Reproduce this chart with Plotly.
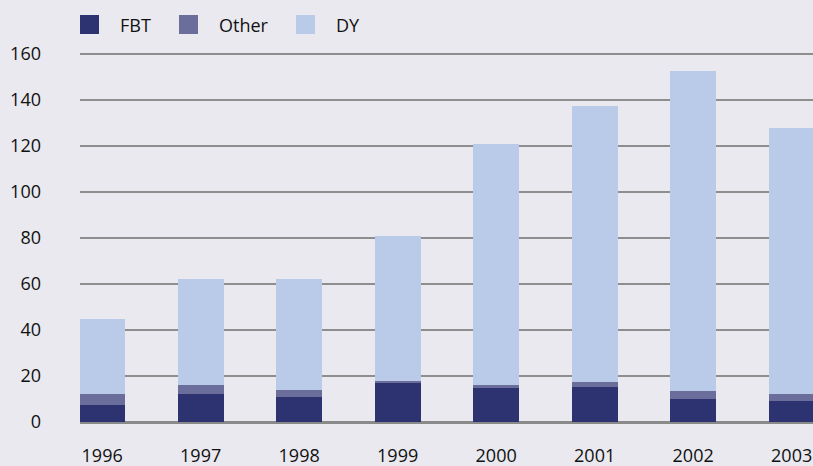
import plotly.graph_objects as go

years = ["1996", "1997", "1998", "1999", "2000", "2001", "2002", "2003"]
fbt = [7.5, 12, 11, 17, 15, 15.4, 10.2, 9.3]
other = [4.5, 4, 2.7, 1, 1.3, 2.2, 3.1, 2.7]
dy = [33, 46, 48.3, 63, 104.7, 120, 139.5, 116]

series_names = ["FBT", "Other", "DY"]
series_values = [fbt, other, dy]
series_colors = ["#2d3270", "#6b6d9b", "#b9cbe9"]

y_ticks = [0, 20, 40, 60, 80, 100, 120, 140, 160]

FONT = "Open Sans, Noto Sans, sans-serif"
BG = "#e9e9ef"

fig = go.Figure()
for name, vals, col in zip(series_names, series_values, series_colors):
    fig.add_trace(go.Bar(x=years, y=vals, name=name, marker=dict(color=col, line=dict(width=0)),
                         width=0.467, showlegend=False))

# manual legend
legend_x = [80, 179, 296]
shapes = []
annotations = []
for i, (name, col) in enumerate(zip(series_names, series_colors)):
    x0 = legend_x[i]
    shapes.append(dict(type="rect", xref="paper", yref="paper",
                       x0=(x0 - 80) / 733, x1=(x0 + 19 - 80) / 733,
                       y0=(466 - 44 - 34) / 392, y1=(466 - 44 - 15) / 392,
                       fillcolor=col, line=dict(width=0)))
    annotations.append(dict(xref="paper", yref="paper", x=(x0 + 38 - 80) / 733,
                            y=(466 - 44 - 24.5) / 392, text=name, showarrow=False,
                            xanchor="left", yanchor="middle",
                            font=dict(family=FONT, size=18, color="#111111")))

fig.update_layout(
    barmode="stack",
    width=813, height=466,
    margin=dict(l=80, r=0, t=30, b=44, autoexpand=False),
    paper_bgcolor=BG, plot_bgcolor=BG,
    font=dict(family=FONT, size=18, color="#111111"),
    shapes=shapes, annotations=annotations,
    xaxis=dict(type="category", range=[-0.225, 7.217], showgrid=False, showline=False,
               ticks="", tickfont=dict(size=18), ticklabelstandoff=21, automargin=False),
    yaxis=dict(range=[0, 392 / 2.3], tickvals=y_ticks, showgrid=True, gridcolor="#8e8e8e",
               gridwidth=1.6, zeroline=True, zerolinecolor="#8a8a8a", zerolinewidth=3,
               showline=False, ticks="", tickfont=dict(size=18), ticklabelstandoff=38,
               automargin=False),
)

fig.write_html("out.html")
